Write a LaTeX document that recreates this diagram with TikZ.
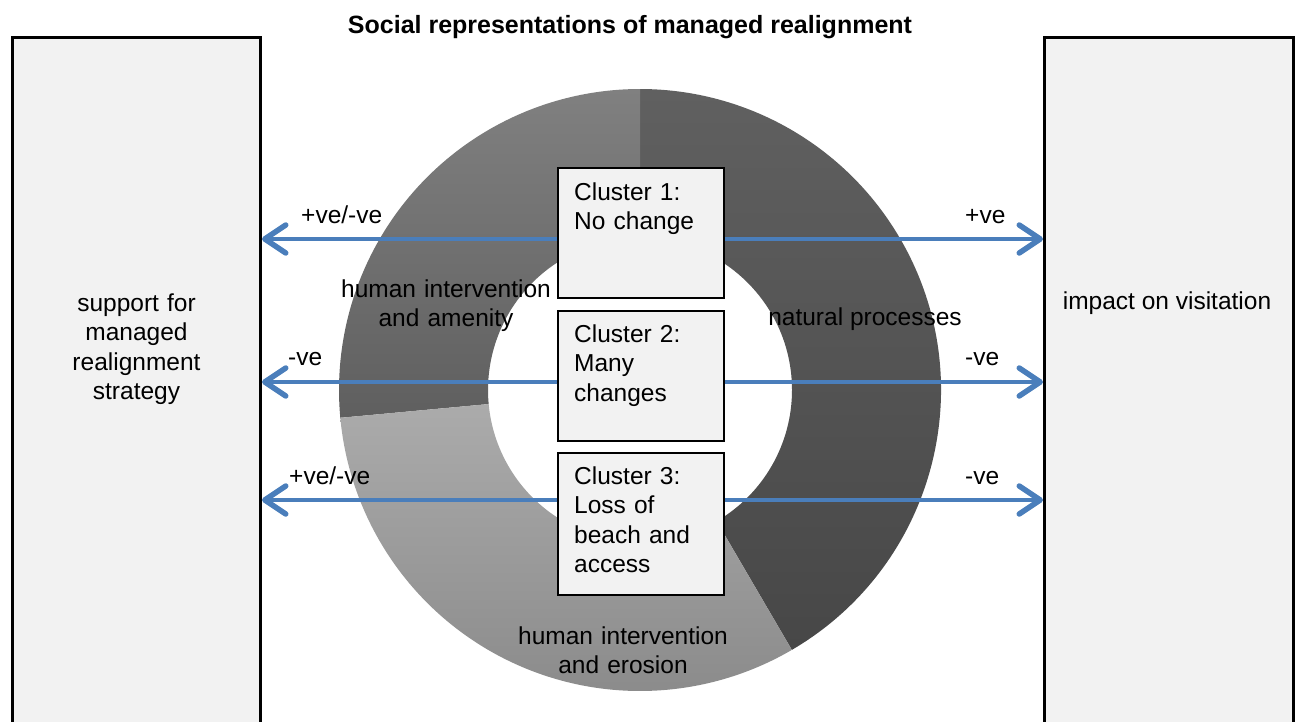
\documentclass[tikz,border=0pt]{standalone}
\usepackage{fontspec}
\setmainfont{Liberation Sans}
\usetikzlibrary{arrows.meta}
\definecolor{arrowblue}{RGB}{74,126,187}
\definecolor{boxfill}{RGB}{242,242,242}
\definecolor{natTop}{RGB}{96,96,96}
\definecolor{natBot}{RGB}{71,71,71}
\definecolor{ameTop}{RGB}{128,128,128}
\definecolor{ameBot}{RGB}{95,95,95}
\definecolor{eroTop}{RGB}{171,171,171}
\definecolor{eroBot}{RGB}{138,138,138}
\begin{document}
\begin{tikzpicture}[x=1pt,y=-1pt,
  txt/.style={font=\fontsize{24.5}{29.5}\selectfont, inner sep=0pt},
  bigbox/.style={draw=black, line width=3pt, fill=boxfill, minimum height=720pt, inner sep=0pt},
  clbox/.style={draw=black, line width=1.5pt, fill=boxfill, minimum width=166pt, inner sep=0pt},
  cltext/.style={txt, anchor=base west, text width=150pt, align=left},
  lab/.style={txt, anchor=base west},
  relarrow/.style={draw=arrowblue, line width=4.5pt, -{Straight Barb[length=21pt,width=28pt,line width=5.5pt,line cap=round,line join=round]}},
]
\useasboundingbox (0,0) rectangle (1298,721);
\clip (0,0) rectangle (1298,721);

% title
\node[font=\fontsize{25}{30}\selectfont\bfseries, inner sep=0pt, anchor=base] (title) at (630,33) {Social representations of managed realignment};

% side boxes
\node[bigbox, minimum width=248pt] (lbox) at (136.5,397.5) {};
\node[bigbox, minimum width=249pt] (rbox) at (1169,397.5) {};
\node[txt, anchor=base, text width=240pt, align=center] (ltext) at (136.5,311) {support for\\managed\\realignment\\strategy};
\node[txt, anchor=base] (rtext) at (1167,309) {impact on visitation};

% donut
\shade[shift={(640,390)}, top color=natTop, bottom color=natBot]
  (59.7:301) arc[start angle=59.7, end angle=-90, radius=301]
  -- (-90:152) arc[start angle=-90, end angle=59.7, radius=152] -- cycle;
\shade[shift={(640,390)}, top color=ameTop, bottom color=ameBot]
  (-90:301) arc[start angle=-90, end angle=-185.3, radius=301]
  -- (-185.3:152) arc[start angle=-185.3, end angle=-90, radius=152] -- cycle;
\shade[shift={(640,390)}, top color=eroTop, bottom color=eroBot]
  (-185.3:301) arc[start angle=-185.3, end angle=-300.3, radius=301]
  -- (-300.3:152) arc[start angle=-300.3, end angle=-185.3, radius=152] -- cycle;

% segment labels
\node[txt, anchor=base, text width=230pt, align=center] (amen) at (446,297) {human intervention\\and amenity};
\node[txt, anchor=base] (nat) at (865,325) {natural processes};
\node[txt, anchor=base, text width=240pt, align=center] (eros) at (623,644) {human intervention\\and erosion};

% cluster boxes
\node[clbox, minimum height=130pt] (c1) at (641,233) {};
\node[clbox, minimum height=130pt] (c2) at (641,376) {};
\node[clbox, minimum height=142pt] (c3) at (641,524) {};
\node[cltext] (t1) at (574,200) {Cluster 1:\\No change};
\node[cltext] (t2) at (574,342) {Cluster 2:\\Many\\changes};
\node[cltext] (t3) at (574,484) {Cluster 3:\\Loss of\\beach and\\access};

% arrows
\coordinate (y1) at (0,239);
\coordinate (y2) at (0,382);
\coordinate (y3) at (0,500);
\draw[relarrow] (c1.west |- y1) -- (lbox.east |- y1);
\draw[relarrow] (c2.west |- y2) -- (lbox.east |- y2);
\draw[relarrow] (c3.west |- y3) -- (lbox.east |- y3);
\draw[relarrow] (c1.east |- y1) -- (rbox.west |- y1);
\draw[relarrow] (c2.east |- y2) -- (rbox.west |- y2);
\draw[relarrow] (c3.east |- y3) -- (rbox.west |- y3);

% arrow labels
\node[lab] (l1) at (301,223) {+ve/-ve};
\node[lab] (l2) at (288,365) {-ve};
\node[lab] (l3) at (289,484) {+ve/-ve};
\node[lab] (r1) at (965,223) {+ve};
\node[lab] (r2) at (965,365) {-ve};
\node[lab] (r3) at (965,484) {-ve};
\end{tikzpicture}
\end{document}
